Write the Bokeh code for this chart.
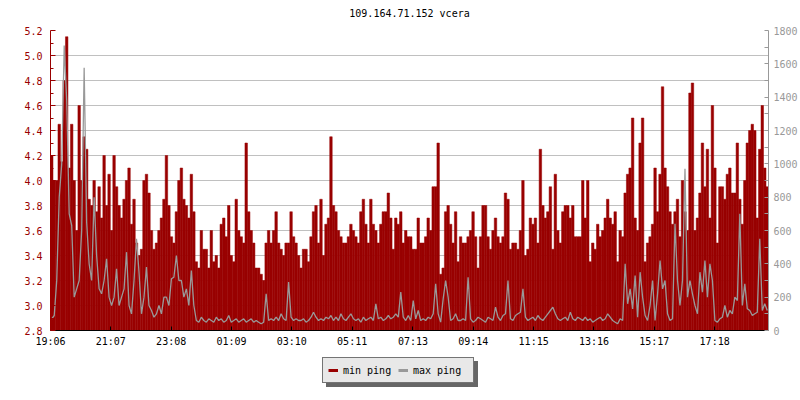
from bokeh.plotting import figure
from bokeh.layouts import column
from bokeh.models import (Range1d, LinearAxis, FixedTicker, PrintfTickFormatter,
                          Legend, LegendItem, ColumnDataSource)
from bokeh.core.properties import value
from bokeh.embed import file_html
from bokeh.resources import INLINE

TITLE = "109.164.71.152 vcera"
STEP_MIN = 5  # one sample every 5 minutes, starting 19:06

MIN_PING = [
    4.2, 4.0, 4.0, 4.45, 4.15, 4.8, 5.15, 4.1, 4.45, 4.0, 3.6, 4.6,
    4.0, 4.35, 4.25, 3.85, 3.8, 4.0, 3.75, 3.95, 3.7, 4.2, 3.8, 4.05,
    3.6, 4.2, 3.95, 3.8, 3.7, 3.85, 4.0, 4.1, 3.65, 3.85, 3.5, 3.4,
    3.45, 4.0, 4.05, 3.9, 3.6, 3.45, 3.5, 3.6, 3.7, 3.85, 4.2, 3.8,
    3.55, 3.5, 3.75, 4.0, 4.1, 3.85, 3.8, 3.7, 4.05, 3.75, 3.35, 3.3,
    3.6, 3.45, 3.45, 3.3, 3.6, 3.35, 3.4, 3.3, 3.65, 3.7, 3.55, 3.8,
    3.4, 3.35, 3.85, 3.6, 3.55, 3.5, 4.3, 3.75, 3.6, 3.5, 3.3, 3.3,
    3.25, 3.2, 3.5, 3.6, 3.5, 3.6, 3.75, 3.5, 3.45, 3.4, 3.5, 3.5,
    3.75, 3.55, 3.5, 3.4, 3.3, 3.45, 3.45, 3.35, 3.55, 3.75, 3.8, 3.5,
    3.85, 3.4, 3.65, 3.7, 4.35, 3.8, 3.75, 3.6, 3.55, 3.5, 3.5, 3.55,
    3.65, 3.6, 3.55, 3.5, 3.75, 3.85, 3.65, 3.5, 3.85, 3.65, 3.6, 3.5,
    3.65, 3.75, 3.75, 3.9, 3.7, 3.45, 3.7, 3.65, 3.75, 3.5, 3.6, 3.55,
    3.55, 3.45, 3.45, 3.7, 3.5, 3.5, 3.55, 3.7, 3.6, 3.95, 3.95, 4.3,
    3.25, 3.3, 3.75, 3.8, 3.65, 3.5, 3.75, 3.35, 3.55, 3.5, 3.5, 3.55,
    3.6, 3.75, 3.55, 3.3, 3.55, 3.8, 3.8, 3.55, 3.45, 3.6, 3.7, 3.55,
    3.5, 3.55, 3.9, 3.85, 3.45, 3.5, 3.5, 3.45, 3.6, 4.0, 3.4, 3.45,
    3.7, 3.65, 3.7, 3.5, 4.25, 3.8, 3.7, 3.75, 3.95, 3.45, 4.05, 3.6,
    3.5, 3.75, 3.8, 3.8, 3.7, 3.8, 3.55, 3.55, 3.55, 4.0, 3.7, 4.0,
    3.35, 3.5, 3.45, 3.65, 3.55, 3.6, 3.7, 3.85, 3.7, 3.65, 3.75, 3.35,
    3.6, 3.55, 3.9, 4.05, 4.1, 4.5, 3.7, 3.6, 4.3, 4.5, 3.35, 3.5,
    3.55, 3.65, 4.1, 3.75, 4.05, 4.75, 4.1, 3.95, 3.75, 3.65, 3.75, 3.85,
    3.55, 4.0, 3.75, 3.6, 4.7, 4.78, 3.6, 3.7, 3.9, 4.3, 3.95, 4.25,
    3.7, 4.6, 4.1, 3.5, 3.95, 3.95, 3.85, 4.05, 4.1, 3.9, 3.9, 4.3,
    3.85, 3.65, 4.0, 4.3, 4.4, 4.45, 4.4, 3.7, 4.25, 4.6, 4.1, 3.95,
]

MAX_PING = [
    70, 90, 300, 800, 1000, 1710, 1380, 700, 630, 200, 250, 300,
    600, 1576, 650, 400, 300, 800, 450, 250, 220, 300, 430, 200,
    150, 200, 370, 150, 200, 250, 470, 150, 100, 300, 550, 350,
    100, 200, 380, 150, 120, 80, 100, 150, 100, 200, 200, 150,
    310, 320, 450, 300, 300, 200, 250, 150, 360, 150, 60, 50,
    80, 60, 50, 70, 60, 50, 80, 60, 70, 50, 60, 90,
    50, 60, 70, 50, 60, 70, 50, 60, 70, 50, 60, 50,
    40, 50, 220, 60, 70, 60, 80, 60, 100, 70, 60, 290,
    80, 60, 70, 60, 60, 70, 50, 60, 80, 110, 80, 60,
    70, 60, 80, 70, 90, 60, 80, 60, 100, 70, 60, 80,
    100, 70, 60, 70, 50, 80, 60, 70, 80, 60, 160, 70,
    80, 60, 70, 90, 70, 80, 100, 80, 230, 80, 60, 90,
    60, 180, 70, 120, 60, 70, 60, 80, 70, 100, 280, 100,
    50, 190, 300, 200, 60, 70, 100, 60, 60, 70, 60, 320,
    70, 50, 60, 80, 70, 60, 50, 80, 70, 60, 140, 80,
    60, 90, 100, 300, 70, 60, 90, 100, 110, 250, 80, 60,
    70, 80, 60, 90, 70, 60, 80, 100, 120, 140, 100, 70,
    60, 70, 80, 60, 110, 70, 60, 80, 70, 60, 80, 60,
    70, 50, 60, 70, 80, 60, 70, 100, 80, 60, 50, 40,
    70, 60, 400, 160, 250, 130, 330, 80, 350, 200, 90, 60,
    150, 300, 60, 220, 420, 250, 300, 100, 60, 70, 640, 300,
    150, 300, 970, 200, 300, 220, 150, 100, 350, 230, 420, 200,
    400, 300, 60, 50, 70, 80, 150, 80, 120, 100, 200, 180,
    700, 150, 280, 130, 120, 90, 100, 110, 550, 120, 160, 120,
]

X_TICKS = [0, 121, 242, 363, 484, 605, 727, 848, 969, 1090, 1211, 1332]
X_LABELS = ["19:06", "21:07", "23:08", "01:09", "03:10", "05:11",
            "07:13", "09:14", "11:15", "13:16", "15:17", "17:18"]
Y_TICKS = [2.8, 3.0, 3.2, 3.4, 3.6, 3.8, 4.0, 4.2, 4.4, 4.6, 4.8, 5.0, 5.2]
R_TICKS = [0, 200, 400, 600, 800, 1000, 1200, 1400, 1600, 1800]
SERIES = ["min ping", "max ping"]

RED = "#990000"
GRAY = "#999999"
SHADOW = "#666666"
FONT = "DejaVu Sans Mono"

# ---------- title strip ----------
tf = figure(width=800, height=26, output_backend="svg", toolbar_location=None,
            x_range=Range1d(0, 1), y_range=Range1d(0, 1),
            x_axis_type=None, y_axis_type=None, min_border=0)
tf.outline_line_color = None
tf.border_fill_color = "white"
tf.background_fill_color = "white"
tf.text(x=[0.5], y=[0.5], text=[TITLE], text_align="center", text_baseline="middle",
        text_font=value(FONT), text_font_size="10px", text_color="black")

# ---------- main chart ----------
t = [i * STEP_MIN + STEP_MIN / 2 for i in range(len(MIN_PING))]
src = ColumnDataSource(dict(t=t, mn=MIN_PING, mx=MAX_PING))

p = figure(width=800, height=324, output_backend="svg", toolbar_location=None,
           x_range=Range1d(0, 1440), y_range=Range1d(Y_TICKS[0], Y_TICKS[-1]),
           min_border_left=50, min_border_right=30, min_border_top=4,
           min_border_bottom=20)
p.extra_y_ranges = {"ms": Range1d(R_TICKS[0], R_TICKS[-1])}
p.outline_line_color = None
p.border_fill_color = "white"
p.background_fill_color = "white"

p.vbar(x="t", width=STEP_MIN, bottom=Y_TICKS[0], top="mn", source=src,
       fill_color=RED, line_color=RED, line_width=0.5)
p.line(x="t", y="mx", source=src, y_range_name="ms", line_color=GRAY, line_width=1.3)

# x axis
xa = p.xaxis[0]
xa.ticker = FixedTicker(ticks=X_TICKS)
xa.major_label_overrides = {tk: lb for tk, lb in zip(X_TICKS, X_LABELS)}
xa.axis_line_color = "black"
xa.major_tick_line_color = "black"
xa.major_tick_in = 4
xa.major_tick_out = 0
xa.minor_tick_line_color = None
xa.major_label_text_font = FONT
xa.major_label_text_font_size = "10px"
xa.major_label_text_color = "black"
xa.major_label_standoff = 5
p.xgrid.visible = False

# left axis
minor_left = [round((a + b) / 2, 2) for a, b in zip(Y_TICKS[:-1], Y_TICKS[1:])]
ya = p.yaxis[0]
ya.ticker = FixedTicker(ticks=Y_TICKS, minor_ticks=minor_left)
ya.formatter = PrintfTickFormatter(format="%.1f")
ya.axis_line_color = RED
ya.major_tick_line_color = RED
ya.minor_tick_line_color = RED
ya.major_tick_in = 5
ya.major_tick_out = 0
ya.minor_tick_in = 3
ya.minor_tick_out = 0
ya.major_label_text_font = FONT
ya.major_label_text_font_size = "10px"
ya.major_label_text_color = RED
ya.major_label_standoff = 8
p.ygrid.grid_line_color = "#c0c0c0"
p.ygrid.grid_line_width = 1

# right axis
minor_right = [(a + b) / 2 for a, b in zip(R_TICKS[:-1], R_TICKS[1:])]
ra = LinearAxis(y_range_name="ms", ticker=FixedTicker(ticks=R_TICKS, minor_ticks=minor_right))
ra.axis_line_color = GRAY
ra.major_tick_line_color = GRAY
ra.minor_tick_line_color = GRAY
ra.major_tick_in = 4
ra.major_tick_out = 0
ra.minor_tick_in = 4
ra.minor_tick_out = 0
ra.major_label_text_font = FONT
ra.major_label_text_font_size = "10px"
ra.major_label_text_color = GRAY
ra.major_label_standoff = 5
p.add_layout(ra, "right")

# ---------- legend strip (with drop shadow) ----------
lf = figure(width=800, height=50, output_backend="svg", toolbar_location=None,
            x_range=Range1d(0, 1), y_range=Range1d(0, 1),
            x_axis_type=None, y_axis_type=None, min_border=0)
lf.outline_line_color = None
lf.border_fill_color = "white"
lf.background_fill_color = "white"

# swatch-only renderers (their points lie outside the strip's ranges)
OFF = [-2, -1]
sh1 = lf.line(x=OFF, y=OFF, line_color=SHADOW, line_width=3)
sh2 = lf.line(x=OFF, y=OFF, line_color=SHADOW, line_width=3)
lg1 = lf.line(x=OFF, y=OFF, line_color=RED, line_width=3)
lg2 = lf.line(x=OFF, y=OFF, line_color=GRAY, line_width=3)

common = dict(orientation="horizontal", padding=5, spacing=0, label_standoff=5,
              glyph_width=10, glyph_height=14, label_height=14, label_width=55,
              margin=0, label_text_font=FONT, label_text_font_size="10px",
              border_line_width=1, background_fill_alpha=1)

shadow = Legend(items=[LegendItem(label=" ", renderers=[sh1]),
                       LegendItem(label=" ", renderers=[sh2])],
                location=(276, 13), background_fill_color=SHADOW,
                border_line_color=SHADOW, label_text_color=SHADOW, **common)
legend = Legend(items=[LegendItem(label=SERIES[0], renderers=[lg1]),
                       LegendItem(label=SERIES[1], renderers=[lg2])],
                location=(272, 17), background_fill_color="#e8e8e8",
                border_line_color="black", label_text_color="black", **common)
lf.add_layout(shadow, "center")
lf.add_layout(legend, "center")

layout = column(tf, p, lf, spacing=0)
open("out.html", "w").write(file_html(layout, INLINE))
